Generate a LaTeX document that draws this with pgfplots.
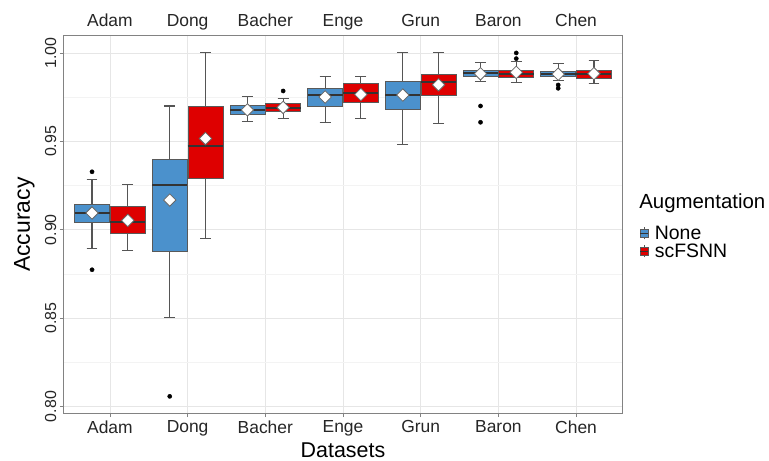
\documentclass[border=0pt]{standalone}
\usepackage{pgfplots}
\pgfplotsset{compat=1.18}
\usepgfplotslibrary{statistics}
\usepackage{fontspec}
\setmainfont{Liberation Sans}
\definecolor{boxblue}{RGB}{75,145,204}
\definecolor{boxred}{RGB}{222,0,0}
\definecolor{gridmaj}{RGB}{230,230,230}
\definecolor{gridmin}{RGB}{243,243,243}
\definecolor{framecol}{RGB}{130,130,130}
\definecolor{whisk}{RGB}{85,85,85}
\newcommand\xtickfont{\fontsize{17.5}{18}\selectfont}
\newcommand\ytickfont{\fontsize{16}{17}\selectfont}
\newcommand\titlefont{\fontsize{21.5}{22}\selectfont}
\newcommand\ytitlefont{\fontsize{23}{24}\selectfont}
\newcommand\legtitlefont{\fontsize{20.5}{21}\selectfont}
\newcommand\legfont{\fontsize{19.5}{20}\selectfont}
\pgfplotsset{
  boxstyle/.style={
    forget plot, solid, draw=black!70, line width=0.8bp, fill=#1,
    mark=*, mark size=2.1bp, mark options={solid, fill=black, draw=black, line width=0.4bp},
    boxplot/draw direction=y,
    boxplot/box extend=0.45,
    boxplot/whisker extend=0.14,
    boxplot/every median/.style={draw=black!80, line width=2bp},
    boxplot/every whisker/.style={draw=whisk, line width=1.1bp},
    boxplot/every box/.style={draw=black!65, fill=#1, line width=0.8bp},
  },
}
\begin{document}
\begin{tikzpicture}
\useasboundingbox (-63.3bp,-47.5bp) rectangle (705.7bp,413.5bp);
\begin{axis}[
  at={(0,0)}, anchor=south west,
  width=559.4bp, height=377.7bp, scale only axis,
  clip=false,
  xmin=-0.6, xmax=6.6, ymin=0.7961, ymax=1.0097,
  xtick={0,1,2,3,4,5,6},
  xticklabels={Adam,Dong,Bacher,Enge,Grun,Baron,Chen},
  ytick={0.80,0.85,0.90,0.95,1.00},
  minor ytick={0.825,0.875,0.925,0.975},
  xmajorgrids, ymajorgrids, yminorgrids,
  major grid style={draw=gridmaj, line width=0.8bp},
  minor grid style={draw=gridmin, line width=0.6bp},
  axis line style={draw=framecol, line width=0.9bp},
  tick align=outside, xtick pos=bottom, ytick pos=left,
  major tick length=3.5bp, minor tick length=0bp,
  tick style={draw=framecol, line width=0.8bp},
  yticklabel style={/pgf/number format/fixed, /pgf/number format/fixed zerofill,
    /pgf/number format/precision=2, /pgf/number format/assume math mode=true},
  xticklabel style={font=\xtickfont, text=black!85},
  yticklabel style={font=\ytickfont, text=black!85, rotate=90},
  xlabel={Datasets}, ylabel={Accuracy},
  xlabel style={font=\titlefont, at={(axis description cs:0.5,-0.117)}, anchor=base},
  ylabel style={font=\ytitlefont, at={(axis description cs:-0.0697,0.5)}, anchor=center},
  legend style={draw=none, fill=none, at={(axis description cs:1.030,0.50)}, anchor=north west,
    font=\legfont, row sep=1bp, inner sep=0pt, nodes={inner sep=1bp},
    /tikz/every odd column/.append style={column sep=5bp}},
  legend cell align=left,
  legend image code/.code={
    \draw[draw=whisk, line width=0.7bp] (4bp,-6bp) -- (4bp,6bp);
    \draw[#1, line width=0.7bp] (0bp,-3.8bp) rectangle (8bp,3.8bp);
    \draw[black!80, line width=1.2bp] (0bp,0bp) -- (8bp,0bp);
  },
]
\addlegendimage{fill=boxblue, draw=black!65}
\addlegendentry{None}
\addlegendimage{fill=boxred, draw=black!65}
\addlegendentry{scFSNN}

% Adam
\addplot[boxstyle=boxblue, boxplot prepared={draw position=-0.23, lower whisker=0.8894, lower quartile=0.9041, median=0.9094, upper quartile=0.9145, upper whisker=0.9286}] table[row sep=\\, y index=0] {0.9328\\ 0.8774\\};
\addplot[boxstyle=boxred, boxplot prepared={draw position=0.23, lower whisker=0.8885, lower quartile=0.8981, median=0.9044, upper quartile=0.9130, upper whisker=0.9256}] coordinates {};
% Dong
\addplot[boxstyle=boxblue, boxplot prepared={draw position=0.77, lower whisker=0.8505, lower quartile=0.8878, median=0.9253, upper quartile=0.9400, upper whisker=0.9700}] table[row sep=\\, y index=0] {0.8058\\};
\addplot[boxstyle=boxred, boxplot prepared={draw position=1.23, lower whisker=0.8953, lower quartile=0.9290, median=0.9476, upper quartile=0.9700, upper whisker=1.0000}] coordinates {};
% Bacher
\addplot[boxstyle=boxblue, boxplot prepared={draw position=1.77, lower whisker=0.9612, lower quartile=0.9653, median=0.9676, upper quartile=0.9702, upper whisker=0.9753}] coordinates {};
\addplot[boxstyle=boxred, boxplot prepared={draw position=2.23, lower whisker=0.9631, lower quartile=0.9669, median=0.9691, upper quartile=0.9712, upper whisker=0.9744}] table[row sep=\\, y index=0] {0.9785\\};
% Enge
\addplot[boxstyle=boxblue, boxplot prepared={draw position=2.77, lower whisker=0.9605, lower quartile=0.9697, median=0.9761, upper quartile=0.9797, upper whisker=0.9866}] coordinates {};
\addplot[boxstyle=boxred, boxplot prepared={draw position=3.23, lower whisker=0.9627, lower quartile=0.9718, median=0.9772, upper quartile=0.9825, upper whisker=0.9866}] coordinates {};
% Grun
\addplot[boxstyle=boxblue, boxplot prepared={draw position=3.77, lower whisker=0.9482, lower quartile=0.9682, median=0.9761, upper quartile=0.9838, upper whisker=1.0000}] coordinates {};
\addplot[boxstyle=boxred, boxplot prepared={draw position=4.23, lower whisker=0.9601, lower quartile=0.9761, median=0.9838, upper quartile=0.9881, upper whisker=1.0000}] coordinates {};
% Baron
\addplot[boxstyle=boxblue, boxplot prepared={draw position=4.77, lower whisker=0.9836, lower quartile=0.9866, median=0.9885, upper quartile=0.9900, upper whisker=0.9945}] table[row sep=\\, y index=0] {0.9700\\ 0.9608\\};
\addplot[boxstyle=boxred, boxplot prepared={draw position=5.23, lower whisker=0.9834, lower quartile=0.9860, median=0.9883, upper quartile=0.9900, upper whisker=0.9951}] table[row sep=\\, y index=0] {1.0000\\ 0.9968\\};
% Chen
\addplot[boxstyle=boxblue, boxplot prepared={draw position=5.77, lower whisker=0.9842, lower quartile=0.9868, median=0.9882, upper quartile=0.9896, upper whisker=0.9942}] table[row sep=\\, y index=0] {0.9819\\ 0.9800\\};
\addplot[boxstyle=boxred, boxplot prepared={draw position=6.23, lower whisker=0.9829, lower quartile=0.9855, median=0.9882, upper quartile=0.9900, upper whisker=0.9955}] coordinates {};

% means
\addplot[forget plot, only marks, mark=square*, mark size=4.4bp,
  mark options={rotate=45, fill=white, draw=black!60, line width=0.8bp}] coordinates {
  (-0.23,0.9095) (0.23,0.9053) (0.77,0.9168) (1.23,0.9516)
  (1.77,0.9678) (2.23,0.9692) (2.77,0.9751) (3.23,0.9765)
  (3.77,0.9762) (4.23,0.9820) (4.77,0.9882) (5.23,0.9890)
  (5.77,0.9880) (6.23,0.9883)};

% top labels
\node[anchor=base, font=\xtickfont, text=black!85, yshift=9bp] at (axis cs:0,1.0097) {Adam};
\node[anchor=base, font=\xtickfont, text=black!85, yshift=9bp] at (axis cs:1,1.0097) {Dong};
\node[anchor=base, font=\xtickfont, text=black!85, yshift=9bp] at (axis cs:2,1.0097) {Bacher};
\node[anchor=base, font=\xtickfont, text=black!85, yshift=9bp] at (axis cs:3,1.0097) {Enge};
\node[anchor=base, font=\xtickfont, text=black!85, yshift=9bp] at (axis cs:4,1.0097) {Grun};
\node[anchor=base, font=\xtickfont, text=black!85, yshift=9bp] at (axis cs:5,1.0097) {Baron};
\node[anchor=base, font=\xtickfont, text=black!85, yshift=9bp] at (axis cs:6,1.0097) {Chen};
% legend title
\node[anchor=base west, font=\legtitlefont, inner sep=0pt] at (axis description cs:1.0293,0.5419) {Augmentation};
\end{axis}
\end{tikzpicture}
\end{document}
